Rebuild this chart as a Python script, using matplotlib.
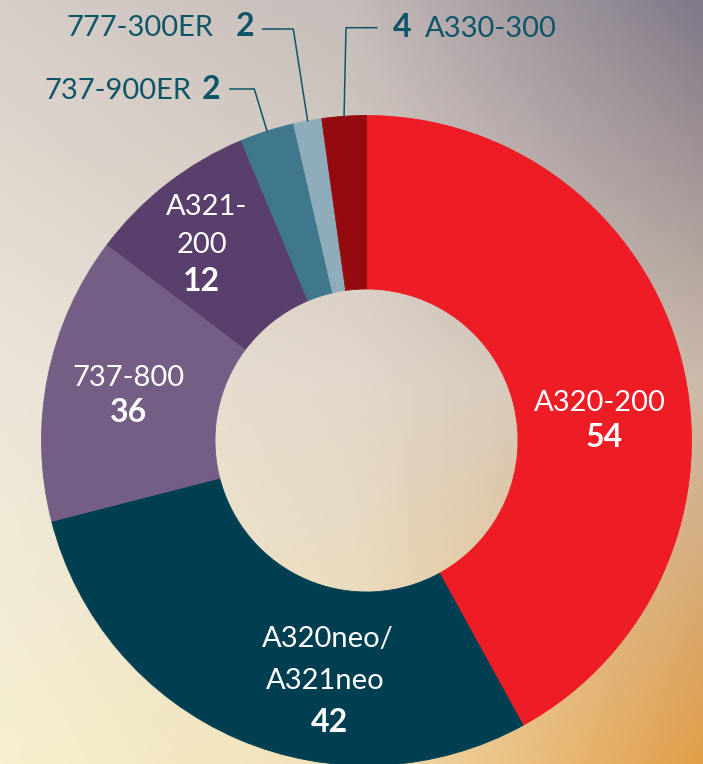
import numpy as np
import matplotlib.pyplot as plt

# fleet data
models = ["A320-200", "A320neo/\nA321neo", "737-800", "A321-200",
          "737-900ER", "777-300ER", "A330-300"]
counts = [54, 42, 36, 12, 2, 2, 4]
# slice sizes as drawn in the source graphic (percent of the ring)
shares = [42.0, 29.0, 14.3, 8.4, 2.7, 1.4, 2.2]

colors = ["#ED1C25", "#003F51", "#745E85", "#593F6B",
          "#3F788D", "#8EACBA", "#950A0E"]
label_teal = "#0E5467"

W, H = 703, 764
CX, CY, R, R_IN = 366.5, 440.5, 325, 151.5

plt.rcParams['font.family'] = ['Lato', 'DejaVu Sans']

fig = plt.figure(figsize=(W / 100, H / 100), dpi=100)
ax = fig.add_axes([0, 0, 1, 1])

# soft background gradient (top row .. bottom row, left .. right)
anchors = np.array([
    [[214, 206, 200], [198, 188, 185], [128, 120, 136]],
    [[236, 230, 218], [226, 216, 203], [204, 186, 170]],
    [[246, 240, 208], [242, 224, 182], [226, 158, 72]],
], dtype=float) / 255
ny, nx = 200, 200
u = np.linspace(0, 2, nx)
v = np.linspace(0, 2, ny)
rows = np.stack([np.stack([np.interp(u, [0, 1, 2], anchors[r, :, c]) for c in range(3)], -1)
                 for r in range(3)])
bg = np.stack([np.stack([np.interp(v, [0, 1, 2], rows[:, i, c]) for c in range(3)], -1)
               for i in range(nx)], 1)
ax.imshow(bg, extent=[0, W, 0, H], origin='upper', aspect='auto', zorder=0)


def yy(y):
    return H - y


wedges, _ = ax.pie(
    shares, colors=colors, startangle=90, counterclock=False,
    center=(CX, yy(CY)), radius=R,
    wedgeprops=dict(width=R - R_IN, linewidth=0.6),
)
for w, c in zip(wedges, colors):
    w.set_edgecolor(c)
    w.set_zorder(2)

# labels inside the ring
inside = [
    ("A320-200", 599.5, 410.7, False), ("54", 604, 447, True),
    ("A320neo/", 328, 647, False), ("A321neo", 325, 689, False), ("42", 330, 731.7, True),
    ("737-800", 128, 385.7, False), ("36", 128, 421.7, True),
    ("A321-", 206.7, 215, False), ("200", 202, 253, False), ("12", 201, 290.7, True),
]
for txt, x, y, bold in inside:
    ax.text(x, yy(y), txt, color='white', ha='center', va='baseline',
            fontsize=23 if bold else 21, fontweight='bold' if bold else 'normal', zorder=3)


def mid_point(wedge):
    ang = np.deg2rad((wedge.theta1 + wedge.theta2) / 2)
    return CX + R * np.cos(ang), yy(CY) + R * np.sin(ang)


# small slices: labels above the ring with leader lines
outside = [
    (4, 191, 99, 211.5, (230, 254.3), 89),     # 737-900ER
    (5, 213, 36, 245.5, (262.7, 293.3), 29),   # 777-300ER
]
for i, name_right, base, num_x, (x0, x1), ly in outside:
    ax.text(name_right, yy(base), models[i], color=label_teal, ha='right',
            va='baseline', fontsize=21, zorder=3)
    ax.text(num_x, yy(base), str(counts[i]), color=label_teal, ha='center',
            va='baseline', fontsize=23, fontweight='bold', zorder=3)
    px, py = mid_point(wedges[i])
    ax.plot([x0, x1, px], [yy(ly), yy(ly), py], color=label_teal, lw=1.1, zorder=3)

# A330-300 label to the right of its number
ax.text(402, yy(37), str(counts[6]), color=label_teal, ha='center',
        va='baseline', fontsize=23, fontweight='bold', zorder=3)
ax.text(425, yy(37), models[6], color=label_teal, ha='left',
        va='baseline', fontsize=21, zorder=3)
px, py = mid_point(wedges[6])
ax.plot([376.7, 346, px], [yy(27.7), yy(27.7), py], color=label_teal, lw=1.1, zorder=3)

ax.set_xlim(0, W)
ax.set_ylim(0, H)
ax.set_aspect('equal')
ax.axis('off')

fig.savefig('out.png', dpi=100)
